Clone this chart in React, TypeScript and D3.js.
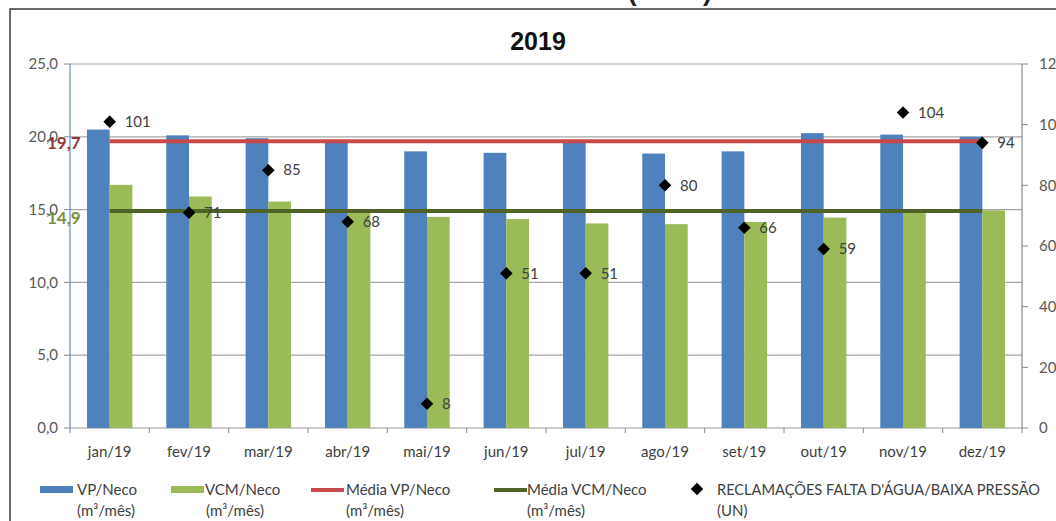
import React from "react";
import * as d3 from "d3";

const months = ["jan/19","fev/19","mar/19","abr/19","mai/19","jun/19","jul/19","ago/19","set/19","out/19","nov/19","dez/19"];
const vpNeco = [20.5, 20.1, 19.9, 19.7, 19.0, 18.9, 19.6, 18.85, 19.0, 20.25, 20.15, 20.0];
const vcmNeco = [16.7, 15.9, 15.55, 14.8, 14.5, 14.35, 14.05, 14.0, 14.15, 14.45, 14.8, 14.95];
const mediaVP = 19.7;
const mediaVCM = 14.9;
const reclamacoes = [101, 71, 85, 68, 8, 51, 51, 80, 66, 59, 104, 94];
const leftTicks = [0, 5, 10, 15, 20, 25];
const rightTicks = [0, 20, 40, 60, 80, 100, 120];
const seriesKeys = ["VP", "VCM"];

const W = 1056, H = 521;
const FONT = "Lato, 'Open Sans', sans-serif";
const TXT = "#404040";

export default function App() {
  const left = 70, right = 1022, top = 64, bottom = 428;
  const x = d3.scaleBand<string>().domain(months).range([left, right]).paddingInner(0).paddingOuter(0);
  const x1 = d3.scaleBand<string>().domain(seriesKeys).range([0, x.bandwidth()]).paddingInner(0).paddingOuter(0.747);
  const y = d3.scaleLinear().domain([0, 25]).range([bottom, top]);
  const y2 = d3.scaleLinear().domain([0, 120]).range([bottom, top]);
  const cx = (m: string) => (x(m) as number) + x.bandwidth() / 2;
  const fmt = (v: number) => v.toFixed(1).replace(".", ",");
  const colors: Record<string, string> = { VP: "#4F81BD", VCM: "#9BBB59" };
  const vals: Record<string, number[]> = { VP: vpNeco, VCM: vcmNeco };
  const diamond = d3.symbol().type(d3.symbolDiamond2).size(100)() as string;
  const lineGen = d3.line<number>().x((_, i) => cx(months[i])).y((d) => y(d));

  const legendY1 = 490, legendY2 = 511;
  const LF = 15;
  return (
    <svg width={W} height={H} style={{ position: "absolute", left: 0, top: 0, background: "#fff" }} fontFamily={FONT}>
      <rect x={0} y={0} width={W} height={H} fill="#fff" />
      {/* cut-off heading above the frame */}
      <text x={628} y={1} fontSize={26} fontWeight="bold" fill="#222" fontFamily="'Liberation Sans', sans-serif">(</text>
      <text x={703} y={1} fontSize={26} fontWeight="bold" fill="#222" fontFamily="'Liberation Sans', sans-serif">)</text>
      {/* frame */}
      <path d={`M10,${H} L10,9 L${W},9`} fill="none" stroke="#3a3a3a" strokeWidth={1.5} />
      {/* title */}
      <text x={538} y={50} textAnchor="middle" fontSize={25} fontWeight="bold" fill="#111" fontFamily="'Liberation Sans', sans-serif">2019</text>
      {/* gridlines */}
      {leftTicks.map((t) => (
        <line key={"g" + t} x1={left} x2={right} y1={y(t)} y2={y(t)} stroke={t === 0 ? "#9a9a9a" : "#a6a6a6"} strokeWidth={1.2} />
      ))}
      {/* bars */}
      {seriesKeys.map((k) =>
        months.map((m, i) => (
          <rect key={k + m} x={(x(m) as number) + (x1(k) as number)} width={x1.bandwidth()} y={y(vals[k][i])} height={bottom - y(vals[k][i])} fill={colors[k]} />
        ))
      )}
      {/* mean lines */}
      <path d={lineGen(months.map(() => mediaVP)) as string} stroke="#C9484A" strokeWidth={4} fill="none" />
      <path d={lineGen(months.map(() => mediaVCM)) as string} stroke="#4F6228" strokeWidth={4} fill="none" />
      {/* left axis */}
      <line x1={left} x2={left} y1={top} y2={bottom} stroke="#5B8FD6" strokeWidth={1.2} />
      {leftTicks.map((t) => (
        <g key={"l" + t}>
          <line x1={left - 6} x2={left} y1={y(t)} y2={y(t)} stroke="#888" />
          <text x={58} y={y(t)} dy="0.35em" textAnchor="end" fontSize={15} fill="#595959">{fmt(t)}</text>
        </g>
      ))}
      {/* right axis */}
      <line x1={right} x2={right} y1={top} y2={bottom} stroke="#8c8c8c" strokeWidth={1.2} />
      {rightTicks.map((t) => (
        <g key={"r" + t}>
          <line x1={right} x2={right + 6} y1={y2(t)} y2={y2(t)} stroke="#888" />
          <text x={1039} y={y2(t)} dy="0.35em" fontSize={15} fill="#595959">{t}</text>
        </g>
      ))}
      {/* x axis ticks and labels */}
      {months.map((m) => (
        <line key={"xt" + m} x1={x(m) as number} x2={x(m) as number} y1={bottom} y2={bottom + 5} stroke="#888" />
      ))}
      <line x1={right} x2={right} y1={bottom} y2={bottom + 5} stroke="#888" />
      {months.map((m) => (
        <text key={"xl" + m} x={cx(m)} y={452} dy="0.35em" textAnchor="middle" fontSize={LF} fill={TXT}>{m}</text>
      ))}
      {/* mean labels */}
      <text x={47} y={y(mediaVP) + 2} dy="0.35em" fontSize={17} fontWeight="bold" fill="#943634">{fmt(mediaVP)}</text>
      <text x={47} y={y(mediaVCM) + 7} dy="0.35em" fontSize={17} fontWeight="bold" fill="#76923C">{fmt(mediaVCM)}</text>
      {/* complaints */}
      {months.map((m, i) => (
        <g key={"d" + m}>
          <path d={diamond} transform={`translate(${cx(m)},${y2(reclamacoes[i])})`} fill="#000" />
          <text x={cx(m) + 15} y={y2(reclamacoes[i])} dy="0.35em" fontSize={LF} fill={TXT}>{reclamacoes[i]}</text>
        </g>
      ))}
      {/* legend */}
      <rect x={40} y={legendY1 - 4} width={33} height={7} fill="#4F81BD" />
      <text x={77} y={legendY1} dy="0.35em" fontSize={LF} fill={TXT}>VP/Neco</text>
      <text x={77} y={legendY2} dy="0.35em" fontSize={LF} fill={TXT}>(m³/mês)</text>
      <rect x={171} y={legendY1 - 4} width={33} height={7} fill="#9BBB59" />
      <text x={205} y={legendY1} dy="0.35em" fontSize={LF} fill={TXT}>VCM/Neco</text>
      <text x={206} y={legendY2} dy="0.35em" fontSize={LF} fill={TXT}>(m³/mês)</text>
      <line x1={311} x2={344} y1={legendY1} y2={legendY1} stroke="#C9484A" strokeWidth={4} />
      <text x={346} y={legendY1} dy="0.35em" fontSize={LF} fill={TXT}>Média VP/Neco</text>
      <text x={346} y={legendY2} dy="0.35em" fontSize={LF} fill={TXT}>(m³/mês)</text>
      <line x1={494} x2={527} y1={legendY1} y2={legendY1} stroke="#4F6228" strokeWidth={4} />
      <text x={527} y={legendY1} dy="0.35em" fontSize={LF} fill={TXT}>Média VCM/Neco</text>
      <text x={527} y={legendY2} dy="0.35em" fontSize={LF} fill={TXT}>(m³/mês)</text>
      <path d={diamond} transform={`translate(697,${legendY1 - 1})`} fill="#000" />
      <text x={717} y={legendY1} dy="0.35em" fontSize={LF} fill={TXT} textLength={323} lengthAdjust="spacingAndGlyphs">RECLAMAÇÕES FALTA D'ÁGUA/BAIXA PRESSÃO</text>
      <text x={717} y={legendY2} dy="0.35em" fontSize={LF} fill={TXT}>(UN)</text>
    </svg>
  );
}
